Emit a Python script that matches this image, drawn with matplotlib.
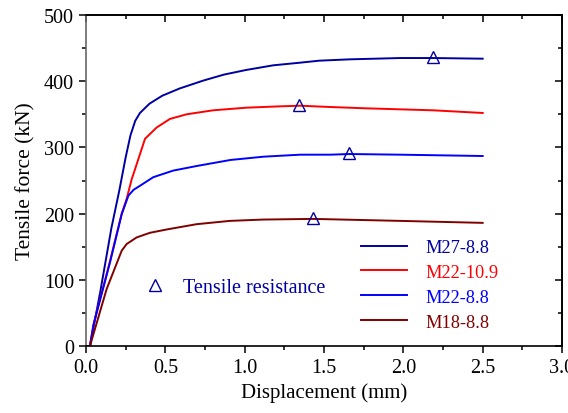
import matplotlib
matplotlib.use("Agg")
import matplotlib.pyplot as plt
from matplotlib.ticker import MultipleLocator
from matplotlib.lines import Line2D

plt.rcParams['font.family'] = ['Liberation Serif', 'DejaVu Serif']

# ---- data ----
m27_x = [0, 0.025, 0.09, 0.16, 0.21, 0.25, 0.28, 0.31, 0.34, 0.40, 0.48, 0.59, 0.74,
         0.87, 1.01, 1.18, 1.35, 1.47, 1.66, 1.98, 2.19, 2.5]
m27_y = [0, 0, 82, 178, 235, 285, 318, 340, 352, 366, 378, 389, 401,
         410, 417, 424, 428, 431, 433, 435, 435, 434]

m22_109_x = [0, 0.025, 0.05, 0.15, 0.225, 0.256, 0.288, 0.309, 0.372, 0.445, 0.529,
             0.634, 0.80, 1.01, 1.22, 1.35, 1.54, 1.77, 2.19, 2.5]
m22_109_y = [0, 0, 35, 127, 200, 222, 252, 267, 313, 330, 343,
             350, 356, 360, 362, 363, 361, 359, 356, 352]

m22_88_x = [0, 0.025, 0.046, 0.151, 0.225, 0.267, 0.30, 0.34, 0.424, 0.55, 0.70,
            0.91, 1.12, 1.35, 1.54, 1.66, 1.98, 2.5]
m22_88_y = [0, 0, 31, 126, 199, 227, 236, 242, 255, 265, 272,
            281, 286, 289, 289, 290, 289, 287]

m18_x = [0, 0.025, 0.13, 0.225, 0.256, 0.319, 0.403, 0.508, 0.697, 0.907, 1.117,
         1.432, 1.98, 2.5]
m18_y = [0, 0, 86, 144, 154, 164, 171, 176, 184, 189, 191, 192, 189, 186]

# tensile resistance points
res_x = [2.19, 1.34, 1.66, 1.43]
res_y = [436, 364, 291, 194]

labels = ['M27-8.8', 'M22-10.9', 'M22-8.8', 'M18-8.8']
colors = ['#0000A0', '#FF0000', '#0000FF', '#800000']

fig = plt.figure(figsize=(5.68, 4.14), dpi=100)
ax = fig.add_axes([86/568, 1-347/414, (562-86)/568, (347-16)/414])

series = [(m27_x, m27_y), (m22_109_x, m22_109_y), (m22_88_x, m22_88_y), (m18_x, m18_y)]
handles = []
for (xs, ys), lab, c in zip(series, labels, colors):
    h, = ax.plot(xs, ys, color=c, lw=1.4, label=lab)
    handles.append(h)

tri, = ax.plot(res_x, res_y, linestyle='none', marker='^', markersize=9,
               markerfacecolor='none', markeredgecolor='#0000A0', markeredgewidth=1.0,
               label='Tensile resistance', zorder=5)

ax.set_xlim(0, 3.0)
ax.set_ylim(0, 500)
ax.xaxis.set_major_locator(MultipleLocator(0.5))
ax.xaxis.set_minor_locator(MultipleLocator(0.25))
ax.yaxis.set_major_locator(MultipleLocator(100))
ax.yaxis.set_minor_locator(MultipleLocator(50))
ax.xaxis.set_major_formatter(matplotlib.ticker.FormatStrFormatter('%.1f'))

ax.tick_params(which='both', direction='out', top=False, right=False, labelsize=14.5, width=1.1)
ax.tick_params(which='major', length=5)
ax.tick_params(which='minor', length=3)

sx = ax.secondary_xaxis('top')
sx.xaxis.set_major_locator(MultipleLocator(0.5))
sx.xaxis.set_minor_locator(MultipleLocator(0.25))
sx.tick_params(which='both', direction='in', labeltop=False, width=1.1)
sx.tick_params(which='major', length=5)
sx.tick_params(which='minor', length=3)
sy = ax.secondary_yaxis('right')
sy.yaxis.set_major_locator(MultipleLocator(100))
sy.yaxis.set_minor_locator(MultipleLocator(50))
sy.tick_params(which='both', direction='in', labelright=False, width=1.1)
sy.tick_params(which='major', length=5)
sy.tick_params(which='minor', length=3)

for s in list(ax.spines.values()) + list(sx.spines.values()) + list(sy.spines.values()):
    s.set_linewidth(1.2)
ax.spines['left'].set_color('#666666')

ax.set_xlabel('Displacement (mm)', fontsize=15, labelpad=4)
ax.set_ylabel('Tensile force (kN)', fontsize=15.5, labelpad=6)

leg1 = ax.legend(handles=handles, loc='upper left', bbox_to_anchor=(361/568, 1-240/414),
                 bbox_transform=fig.transFigure, frameon=False, fontsize=13.2,
                 labelcolor='linecolor', handlelength=2.5, handletextpad=1.0,
                 labelspacing=0.43, borderaxespad=0, borderpad=0)
ax.add_artist(leg1)
leg2 = ax.legend(handles=[tri], loc='center left', bbox_to_anchor=(147/568, 1-288/414),
                 bbox_transform=fig.transFigure, frameon=False, fontsize=14.5,
                 labelcolor='#0000A0', handlelength=0.8, handletextpad=1.0,
                 borderaxespad=0, borderpad=0)

fig.savefig('out.png', dpi=100)
